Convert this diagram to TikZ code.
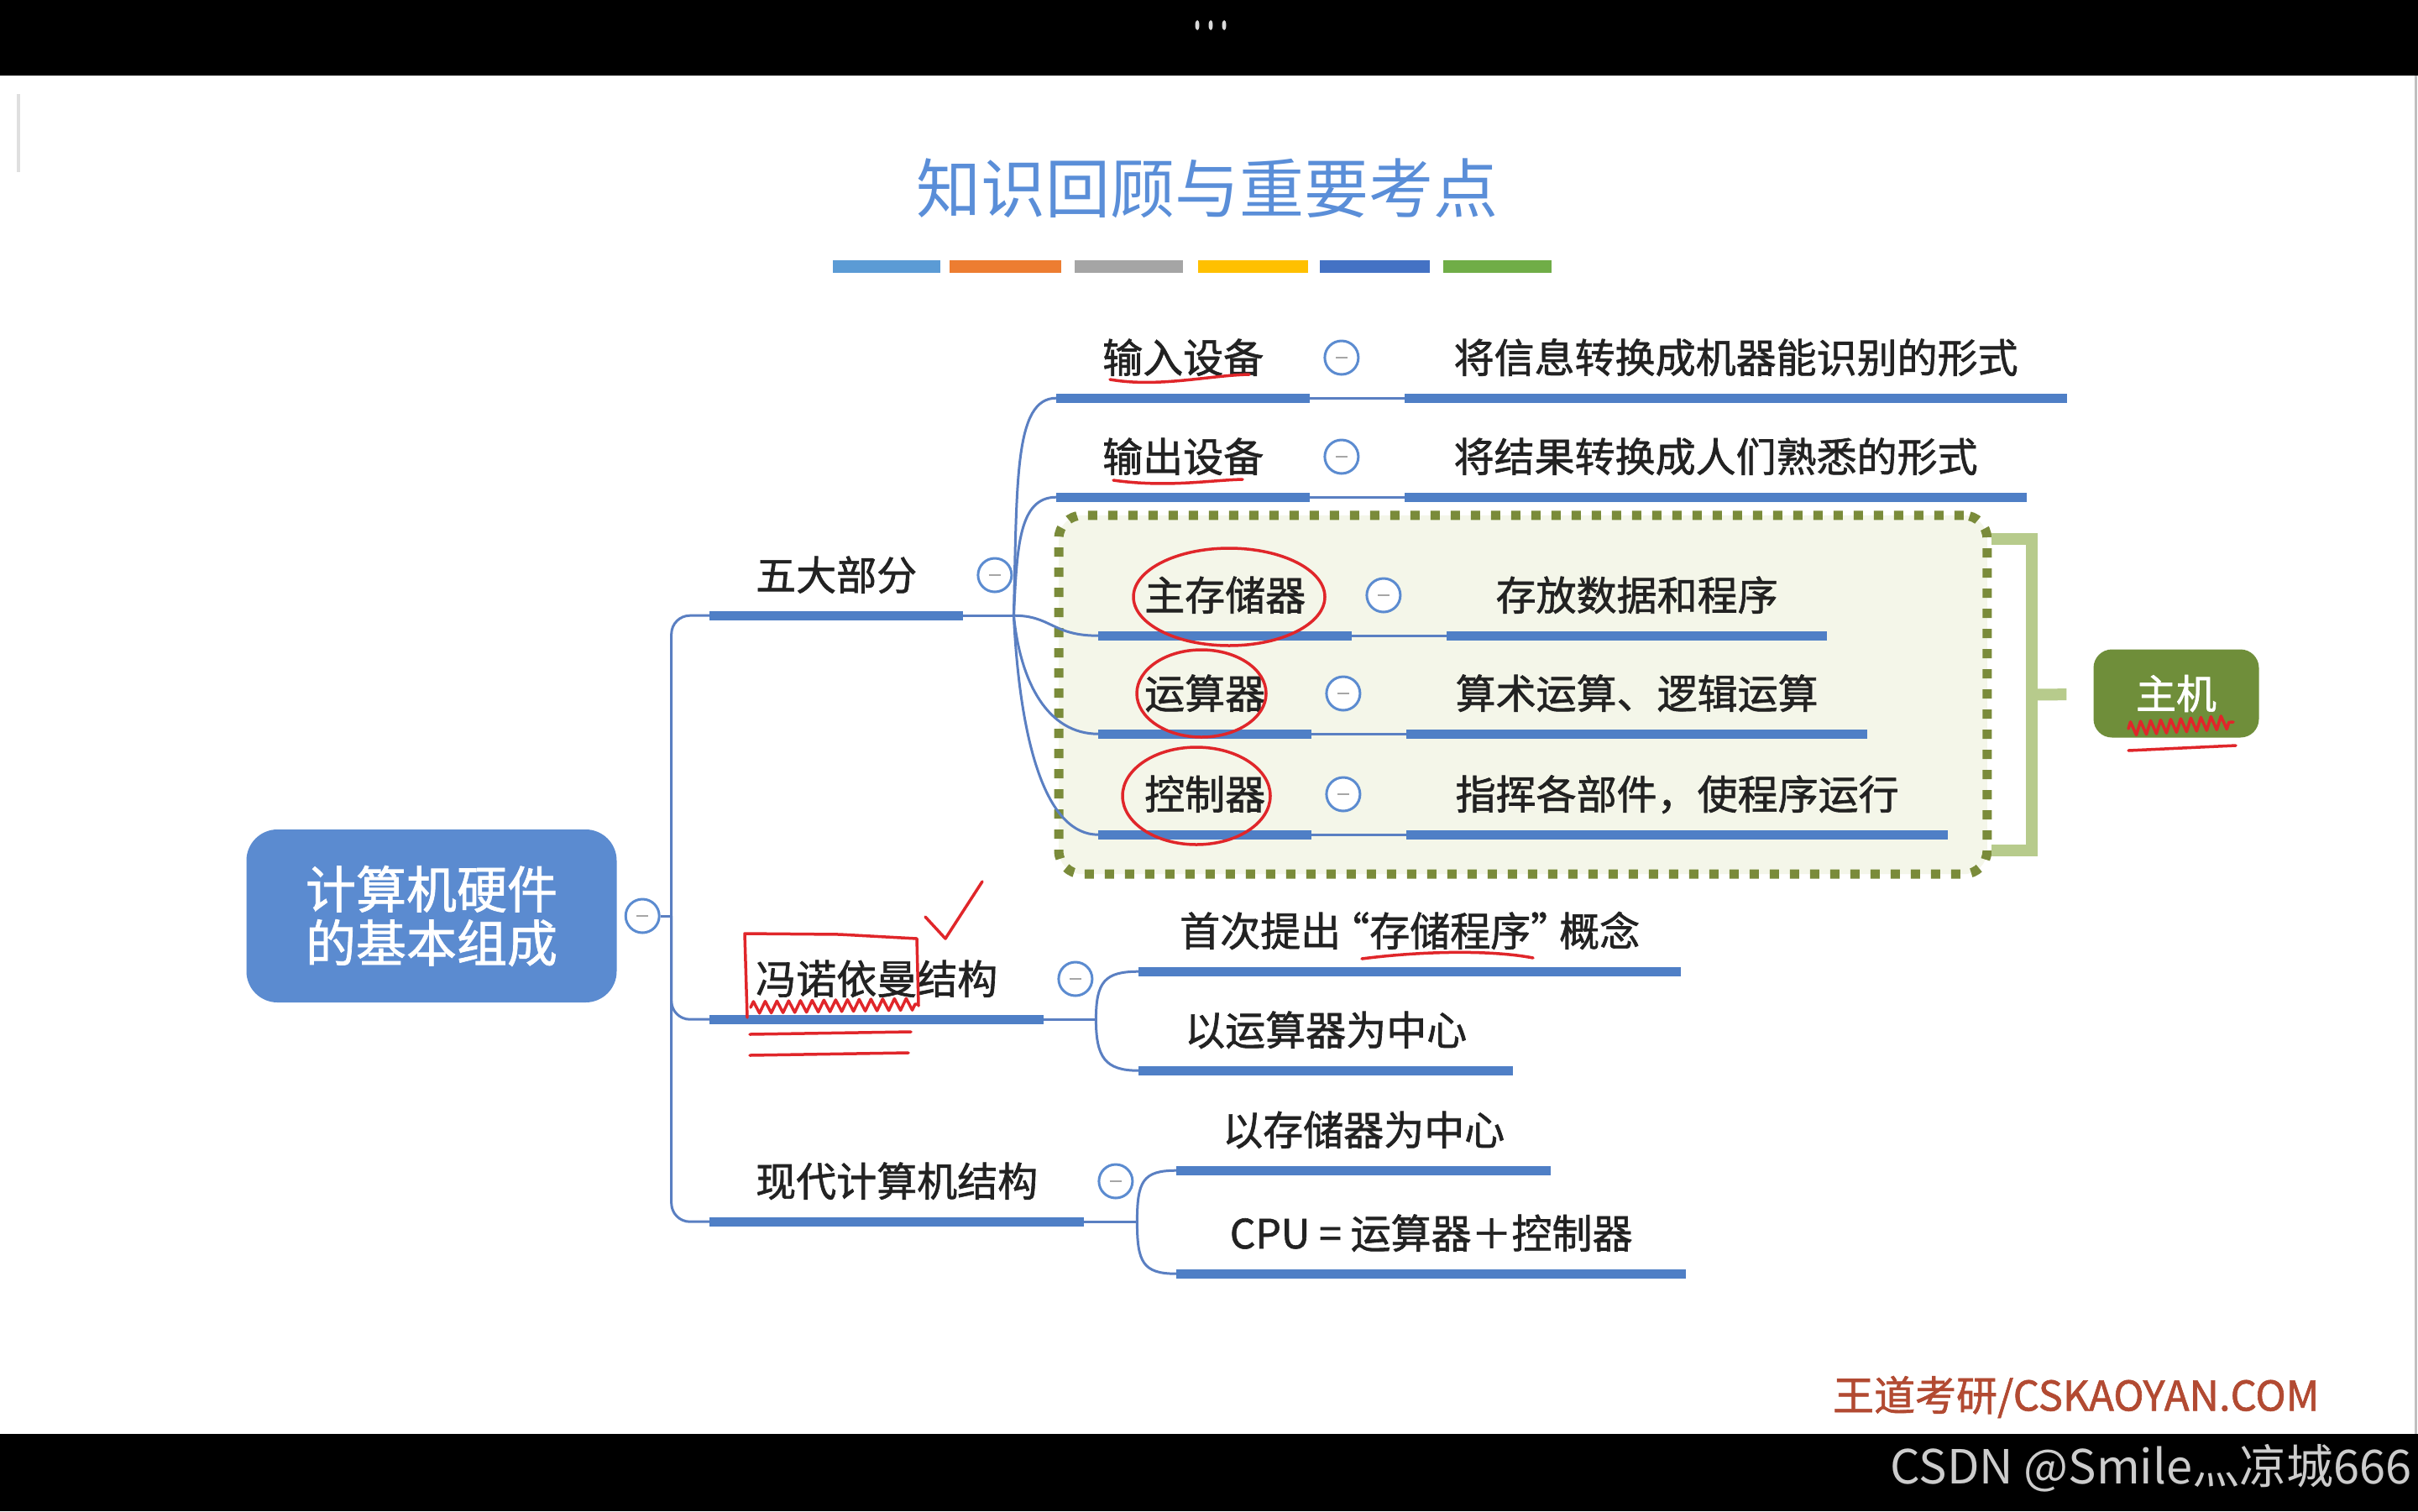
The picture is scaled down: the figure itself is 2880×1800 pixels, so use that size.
\documentclass[tikz,border=0pt]{standalone}
\usepackage{fontspec}
\setmainfont{Noto Sans CJK SC}
\newfontfamily\heavyfont{Noto Sans CJK SC}[FakeBold=1.3]
\usepackage{tikz}
\usepackage{xcolor}
\usetikzlibrary{
	positioning,
	fit,
	backgrounds,
	calc,
	decorations.pathmorphing
}

\definecolor{mapblue}{HTML}{5B8BD0}
\definecolor{barblue}{HTML}{4F7FC6}
\definecolor{linkblue}{HTML}{5A7FC2}
\definecolor{titleblue}{HTML}{5A8ED8}
\definecolor{hostgreen}{HTML}{6F8E3A}
\definecolor{dotolive}{HTML}{7A8B3A}
\definecolor{boxfill}{HTML}{F4F6E9}
\definecolor{bracegreen}{HTML}{B7CB8C}
\definecolor{footred}{HTML}{B24A32}
\definecolor{inkred}{HTML}{E0262A}
\definecolor{txtdark}{HTML}{222222}
\definecolor{stripa}{HTML}{5B9BD5}
\definecolor{stripb}{HTML}{ED7D31}
\definecolor{stripc}{HTML}{A5A5A5}
\definecolor{stripd}{HTML}{FFC000}
\definecolor{stripe}{HTML}{4472C4}
\definecolor{stripf}{HTML}{70AD47}

\begin{document}
\begin{tikzpicture}[
            x=1pt, y=-1pt,
            topic/.style={
                anchor=west,
                inner xsep=55pt,
                inner ysep=24pt,
                text height=42pt,
                text depth=6pt,
                text=txtdark,
                font=\heavyfont\fontsize{48pt}{56pt}\selectfont
            },
            desc/.style={topic,inner xsep=58pt},
            bar/.style={draw=barblue,line width=11pt},
            link/.style={draw=linkblue,line width=3pt},
            fold/.style={
                circle,draw=mapblue,fill=white,line width=3pt,
                minimum size=40pt,inner sep=0pt,
                path picture={\draw[gray!70,line width=2.5pt]
                    ([xshift=-7pt]path picture bounding box.center) --
                    ([xshift=7pt]path picture bounding box.center);}
            },
            hostbox/.style={
                draw=dotolive,fill=boxfill,line width=11pt,
                dash pattern=on 11pt off 13pt,rounded corners=28pt,
                inner sep=47pt
            },
            hostbrace/.style={draw=bracegreen,line width=14pt},
            ink/.style={draw=inkred,line width=3.5pt,line cap=round,line join=round}
        ]
            \useasboundingbox (0,0) rectangle (2880,1800);

            \node[text=titleblue,font=\fontsize{77pt}{80pt}\selectfont] (title) at (1438,224)
            {知识回顾与重要考点};
            \foreach \clr/\xa/\xb in {stripa/992/1120,stripb/1131/1264,stripc/1280/1409,
                stripd/1427/1558,stripe/1572/1703,stripf/1719/1848}
                \draw[\clr,line width=15pt] (\xa,317) -- (\xb,317);

            \node[fill=mapblue,rounded corners=37pt,minimum width=441pt,minimum height=206pt,
                text=white,align=center,font=\heavyfont\fontsize{60pt}{64pt}\selectfont] (root) at (514,1091)
            {计算机硬件\\的基本组成};
            \node[fold,right=9pt of root] (root-c) {};
            \coordinate[right=13pt of root-c] (spine);

            \node[topic] (wuda) at (845,685) {五大部分};
            \node[topic] (feng) at (845,1166) {冯诺依曼结构};
            \node[topic] (xiandai) at (845,1407) {现代计算机结构};
            \node[fold,right=16pt of wuda.east] (wuda-c) {};
            \node[fold,right=16pt of feng.east] (feng-c) {};
            \node[fold,right=16pt of xiandai.east] (xiandai-c) {};

            \node[topic] (shuru) at (1258,426) {输入设备};
            \node[topic] (shuchu) at (1258,544) {输出设备};
            \node[topic] (zhucun) at (1308,709) {主存储器};
            \node[topic] (yunsuan) at (1308,826) {运算器};
            \node[topic] (kongzhi) at (1308,946) {控制器};
            \foreach \n in {shuru,shuchu,zhucun,yunsuan,kongzhi}
                \node[fold,right=16pt of \n.east] (\n-c) {};

            \node[desc,right=113pt of shuru] (shuru-d) {将信息转换成机器能识别的形式};
            \node[desc,right=113pt of shuchu] (shuchu-d) {将结果转换成人们熟悉的形式};
            \node[desc,right=113pt of zhucun] (zhucun-d) {存放数据和程序};
            \node[desc,right=113pt of yunsuan] (yunsuan-d) {算术运算、逻辑运算};
            \node[desc,right=113pt of kongzhi] (kongzhi-d) {指挥各部件，使程序运行};

            \node[topic,inner xsep=40pt,minimum width=646pt] (shouci) at (1356,1109)
            {首次提出\kern-14pt“存储程序”\kern-14pt概念};
            \node[topic] (yiyun) at (1356,1227) {以运算器为中心};
            \node[topic] (yicun) at (1401,1346) {以存储器为中心};
            \node[topic,minimum width=607pt] (cpu) at (1401,1469) {CPU = 运算器＋控制器};

            \node[fill=hostgreen,rounded corners=22pt,minimum width=197pt,minimum height=105pt,
                text=white,font=\heavyfont\fontsize{48pt}{56pt}\selectfont] (zhuji) at (2592,826) {主机};

            \begin{scope}[on background layer]
                \fill[black] (0,0) rectangle (2880,1800);
                \fill[white] (0,90) rectangle (2880,1708);
                \node[hostbox,fit=(zhucun)(kongzhi)(kongzhi-d)] (host) {};
            \end{scope}

            \draw[hostbrace] ([xshift=0pt,yshift=-34pt]host.north east) -- ++(48,0)
                |- ([xshift=0pt,yshift=34pt]host.south east);
            \coordinate[right=48pt of host.east] (brace-mid);
            \draw[hostbrace,shorten >=32pt] (brace-mid) -- (zhuji);

            \draw[link] (root-c) -- (spine);
            \draw[link,rounded corners=22pt] (wuda.south west) -| (spine) |- (xiandai.south west);
            \draw[link,rounded corners=22pt] (spine) |- (feng.south west);

            \coordinate[right=60pt of wuda.south east] (wuda-fan);
            \coordinate[right=62pt of feng.south east] (feng-fan);
            \coordinate[right=63pt of xiandai.south east] (xiandai-fan);
            \draw[link] (wuda.south east) -- (wuda-fan);
            \draw[link] (feng.south east) -- (feng-fan);
            \draw[link] (xiandai.south east) -- (xiandai-fan);

            \draw[link] (wuda-fan) .. controls +(4,-160) and +(-50,0) .. (shuru.south west);
            \draw[link] (wuda-fan) .. controls +(4,-80) and +(-45,0) .. (shuchu.south west);
            \draw[link] (wuda-fan) .. controls +(45,0) and +(-55,0) .. (zhucun.south west);
            \draw[link] (wuda-fan) .. controls +(8,80) and +(-60,0) .. (yunsuan.south west);
            \draw[link] (wuda-fan) .. controls +(8,160) and +(-60,0) .. (kongzhi.south west);
            \draw[link] (feng-fan) .. controls +(0,-45) and +(-40,0) .. (shouci.south west);
            \draw[link] (feng-fan) .. controls +(0,45) and +(-40,0) .. (yiyun.south west);
            \draw[link] (xiandai-fan) .. controls +(0,-48) and +(-40,0) .. (yicun.south west);
            \draw[link] (xiandai-fan) .. controls +(0,48) and +(-40,0) .. (cpu.south west);

            \foreach \n in {shuru,shuchu,zhucun,yunsuan,kongzhi}
                \draw[link] (\n.south east) -- (\n-d.south west);
            \foreach \n in {wuda,feng,xiandai,shuru,shuchu,zhucun,yunsuan,kongzhi,
                shuru-d,shuchu-d,zhucun-d,yunsuan-d,kongzhi-d,shouci,yiyun,yicun,cpu}
                \draw[bar] (\n.south west) -- (\n.south east);

            \node[text=footred,anchor=east,font=\heavyfont\fontsize{49pt}{52pt}\selectfont] (footer)
            at (2766,1664) {王道考研/CSKAOYAN.COM};
            \node[text=gray!40,anchor=east,font=\fontsize{56pt}{60pt}\selectfont] (csdn)
            at (2876,1749) {CSDN @Smile灬凉城666};
            \foreach \dx in {-16,0,16}
                \fill[gray!30] (1442+\dx,30) ellipse [x radius=2.5pt,y radius=6pt];
            \draw[gray!25,line width=4pt] (22,112) -- (22,205);
            \draw[gray!50,line width=3pt] (2877,90) -- (2877,1708);

            \draw[ink] (1322,452) .. controls (1380,462) and (1440,447) .. (1488,446);
            \draw[ink] (1326,572) .. controls (1390,581) and (1440,572) .. (1480,571);
            \draw[ink] (1464,711) ellipse [x radius=114pt,y radius=58pt];
            \draw[ink] (1431,826) ellipse [x radius=77pt,y radius=52pt];
            \draw[ink] (1425,948) ellipse [x radius=88pt,y radius=58pt];
            \draw[ink] (890,1212) -- (887,1112) -- (1000,1113) -- (1092,1118) -- (1094,1198);
            \draw[ink,decorate,decoration={zigzag,segment length=14pt,amplitude=7pt}]
                (894,1200) -- (1093,1196);
            \draw[ink] (893,1232) -- (1085,1229);
            \draw[ink] (893,1257) -- (1082,1254);
            \draw[ink] (1102,1092) -- (1126,1118) -- (1170,1050);
            \draw[ink] (1622,1142) .. controls (1700,1132) and (1780,1132) .. (1826,1141);
            \draw[ink,decorate,decoration={zigzag,segment length=12pt,amplitude=8pt}]
                (2535,868) -- (2660,860);
            \draw[ink] (2535,894) -- (2663,888);
        \end{tikzpicture}
\end{document}
